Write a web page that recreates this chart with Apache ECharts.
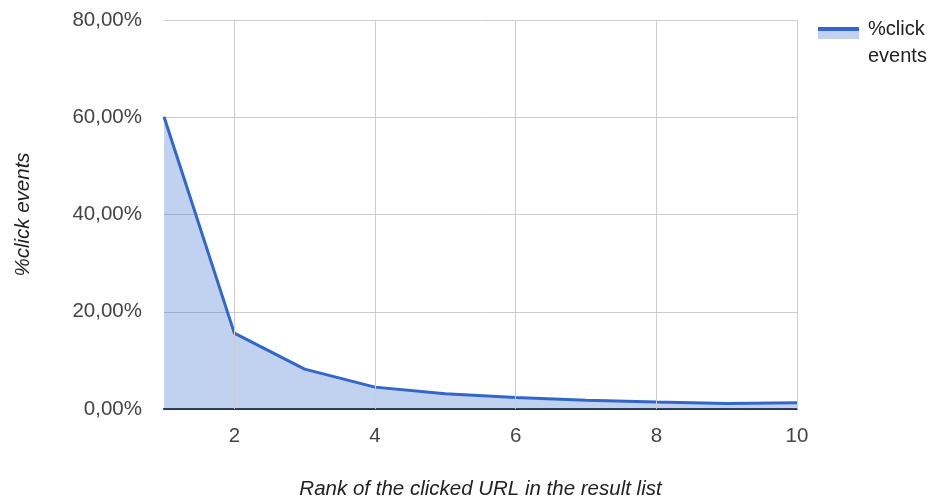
<!DOCTYPE html>
<html><head><meta charset="utf-8">
<script src="https://cdn.jsdelivr.net/npm/echarts@6/dist/echarts.min.js"></script>
<style>html,body{margin:0;padding:0;background:#fff}#c{width:934px;height:499px}</style>
</head><body><div id="c"></div>
<script>
const ranks = [1, 2, 3, 4, 5, 6, 7, 8, 9, 10];
const clickPct = [60.1, 15.6, 8.2, 4.5, 3.15, 2.35, 1.8, 1.42, 1.15, 1.3];
const xGridValues = [2, 4, 6, 8, 10];
const seriesName = '%click events';
const xTitle = 'Rank of the clicked URL in the result list';
const yTitle = '%click events';

const FONT = 'Liberation Sans, Arial, sans-serif';
const chart = echarts.init(document.getElementById('c'));
chart.setOption({
  animation: false,
  textStyle: { fontFamily: FONT },
  grid: { left: 164, right: 137, top: 20, bottom: 90, outerBoundsMode: 'none', containLabel: false },
  legend: {
    data: [seriesName],
    left: 818, top: 16, padding: 0,
    orient: 'vertical',
    itemWidth: 41, itemHeight: 32,
    icon: 'rect',
    itemStyle: {
      color: new echarts.graphic.LinearGradient(0, 0, 0, 1, [
        { offset: 0, color: '#3366cc' }, { offset: 0.125, color: '#3366cc' },
        { offset: 0.125, color: '#c2d1f0' }, { offset: 0.37, color: '#c2d1f0' },
        { offset: 0.37, color: 'rgba(255,255,255,0)' }, { offset: 1, color: 'rgba(255,255,255,0)' }
      ]),
      borderWidth: 0
    },
    formatter: () => '%click\nevents',
    textStyle: { fontSize: 20, color: '#222', lineHeight: 27, fontFamily: FONT, padding: [0, 0, 0, 4] }
  },
  xAxis: {
    type: 'value', min: 1, max: 10, interval: 1,
    name: xTitle, nameLocation: 'middle', nameGap: 70,
    nameTextStyle: { fontSize: 20.5, fontStyle: 'italic', color: '#222', fontFamily: FONT },
    axisLine: { show: true, lineStyle: { color: '#333', width: 2 } },
    axisTick: { show: false },
    splitLine: { show: false },
    axisLabel: {
      fontSize: 20.5, color: '#444', margin: 17, fontFamily: FONT,
      formatter: v => (xGridValues.indexOf(v) >= 0 ? String(v) : '')
    }
  },
  yAxis: {
    type: 'value', min: 0, max: 80, interval: 20,
    name: yTitle, nameLocation: 'middle', nameGap: 131,
    nameTextStyle: { fontSize: 20.5, fontStyle: 'italic', color: '#222', fontFamily: FONT },
    axisLine: { show: false }, axisTick: { show: false },
    splitLine: { lineStyle: { color: '#cccccc', width: 1 } },
    axisLabel: {
      fontSize: 20.5, color: '#444', margin: 22, fontFamily: FONT,
      formatter: v => v.toFixed(2).replace('.', ',') + '%'
    }
  },
  series: [{
    name: seriesName, type: 'line',
    data: ranks.map((r, i) => [r, clickPct[i]]),
    symbol: 'none',
    lineStyle: { color: '#3366cc', width: 3 },
    itemStyle: { color: '#3366cc' },
    areaStyle: { color: 'rgba(51,102,204,0.3)', opacity: 1 },
    markLine: {
      silent: true, symbol: 'none', label: { show: false },
      lineStyle: { color: '#cccccc', width: 1, type: 'solid' },
      data: xGridValues.map(v => ({ xAxis: v }))
    },
    z: 2
  }]
});
</script></body></html>
